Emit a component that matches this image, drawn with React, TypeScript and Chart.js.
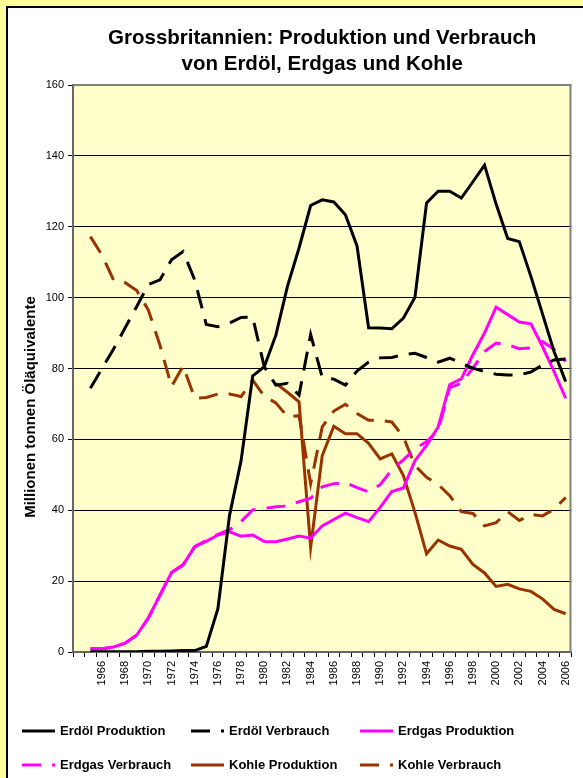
import React, { useEffect, useRef } from "react";
import { Chart, registerables } from "chart.js";

Chart.register(...registerables);

const FONT = "'Liberation Sans', Arial, Helvetica, sans-serif";

const titleLines = ["Grossbritannien: Produktion und Verbrauch", "von Erdöl, Erdgas und Kohle"];
const yAxisTitle = "Millionen tonnen Öläquivalente";

// years with data (the first category slot is an empty one, as in the original)
const years = [
  "1965", "1966", "1967", "1968", "1969", "1970", "1971", "1972", "1973", "1974",
  "1975", "1976", "1977", "1978", "1979", "1980", "1981", "1982", "1983", "1984",
  "1985", "1986", "1987", "1988", "1989", "1990", "1991", "1992", "1993", "1994",
  "1995", "1996", "1997", "1998", "1999", "2000", "2001", "2002", "2003", "2004",
  "2005", "2006",
];

const yTicks = [0, 20, 40, 60, 80, 100, 120, 140, 160];

const erdoelProduktion = [
  0.1, 0.1, 0.1, 0.1, 0.1, 0.2, 0.2, 0.3, 0.4, 0.4,
  1.6, 12.2, 38.5, 54.0, 77.9, 80.5, 89.4, 103.2, 114.0, 126.0,
  127.6, 127.0, 123.4, 114.6, 91.5, 91.4, 91.2, 94.2, 100.1, 126.7,
  130.0, 130.0, 128.1, 132.7, 137.4, 126.4, 116.7, 115.8, 106.0, 95.4,
  84.8, 76.3,
];

const erdoelVerbrauch = [
  74.4, 80.0, 85.5, 91.5, 97.5, 103.7, 105.0, 110.7, 113.0, 105.0,
  92.4, 91.8, 92.8, 94.4, 94.5, 80.5, 75.3, 75.8, 72.5, 89.6,
  77.5, 77.0, 75.3, 79.3, 81.8, 83.0, 83.1, 83.9, 84.3, 83.1,
  81.8, 82.9, 81.5, 80.1, 79.1, 78.4, 78.2, 78.2, 79.0, 81.0,
  82.4, 82.7,
];

const erdgasProduktion = [
  0.9, 0.9, 1.4, 2.5, 4.8, 9.6, 16.0, 22.4, 24.6, 29.7,
  31.2, 33.0, 33.9, 32.7, 33.0, 31.2, 31.1, 31.9, 32.7, 32.1,
  35.6, 37.4, 39.2, 37.9, 36.8, 40.8, 45.3, 46.3, 54.0, 58.3,
  63.5, 75.5, 77.1, 83.9, 90.0, 97.3, 95.2, 93.1, 92.6, 86.2,
  79.1, 71.6,
];

const erdgasVerbrauch = [
  0.9, 0.9, 1.4, 2.5, 4.8, 9.6, 16.0, 22.4, 24.6, 29.7,
  31.5, 33.2, 34.5, 36.8, 40.1, 40.5, 41.0, 41.2, 42.4, 43.4,
  46.6, 47.5, 47.8, 46.4, 45.2, 47.2, 51.4, 54.2, 57.3, 59.4,
  62.5, 74.6, 75.8, 80.1, 84.8, 87.2, 86.7, 85.6, 85.8, 87.6,
  85.4, 82.0,
];

const kohleProduktion = [
  null, null, null, null, null, null, null, null, null, null,
  null, null, null, null, null, null, 75.8, 73.3, 70.6, 29.5,
  55.4, 63.7, 61.6, 61.6, 58.9, 54.5, 55.9, 49.8, 39.4, 27.7,
  31.6, 29.9, 29.0, 24.7, 22.3, 18.5, 19.1, 17.8, 17.1, 15.0,
  12.0, 10.8,
];

const kohleVerbrauch = [
  117.2, 112.0, 105.0, 104.2, 102.0, 96.5, 86.6, 74.9, 80.7, 71.6,
  71.8, 72.8, 72.8, 72.1, 76.7, 72.2, 70.3, 66.4, 66.7, 47.5,
  63.5, 68.0, 69.9, 67.3, 65.4, 65.4, 64.9, 60.7, 52.6, 49.3,
  47.3, 44.1, 39.6, 39.1, 35.6, 36.5, 39.6, 37.1, 38.8, 38.4,
  40.3, 43.6,
];

const seriesNames = [
  "Erdöl Produktion",
  "Erdöl Verbrauch",
  "Erdgas Produktion",
  "Erdgas Verbrauch",
  "Kohle Produktion",
  "Kohle Verbrauch",
];

const BLACK = "#000000";
const MAGENTA = "#FF00FF";
const BROWN = "#993300";
const DASH = [19, 11];

const seriesStyles = [
  { color: BLACK, dash: [] as number[] },
  { color: BLACK, dash: DASH },
  { color: MAGENTA, dash: [] as number[] },
  { color: MAGENTA, dash: DASH },
  { color: BROWN, dash: [] as number[] },
  { color: BROWN, dash: DASH },
];

const seriesData = [
  erdoelProduktion,
  erdoelVerbrauch,
  erdgasProduktion,
  erdgasVerbrauch,
  kohleProduktion,
  kohleVerbrauch,
];

const categories = ["", ...years];

const plotBgPlugin = {
  id: "plotBg",
  beforeDraw(chart: any) {
    const { ctx, chartArea } = chart;
    ctx.save();
    ctx.fillStyle = "#FFFFCC";
    ctx.fillRect(chartArea.left, chartArea.top, chartArea.right - chartArea.left, chartArea.bottom - chartArea.top);
    ctx.restore();
  },
  beforeDatasetsDraw(chart: any) {
    const { ctx, chartArea } = chart;
    ctx.save();
    ctx.strokeStyle = "#808080";
    ctx.lineWidth = 2;
    ctx.beginPath();
    ctx.moveTo(chartArea.left, chartArea.top);
    ctx.lineTo(chartArea.right - 1, chartArea.top);
    ctx.lineTo(chartArea.right - 1, chartArea.bottom);
    ctx.stroke();
    ctx.restore();
  },
};

const yTitlePlugin = {
  id: "yTitleCustom",
  afterDraw(chart: any) {
    const { ctx } = chart;
    ctx.save();
    ctx.translate(23, 399);
    ctx.rotate(-Math.PI / 2);
    ctx.font = `bold 15px ${FONT}`;
    ctx.fillStyle = "#000";
    ctx.textAlign = "center";
    ctx.textBaseline = "middle";
    ctx.fillText(yAxisTitle, 0, 0);
    ctx.restore();
  },
};

function LegendSample({ color, dash }: { color: string; dash: number[] }) {
  return (
    <svg width={33} height={16} style={{ display: "block", flex: "none" }}>
      <line
        x1={0}
        y1={8}
        x2={33}
        y2={8}
        stroke={color}
        strokeWidth={3}
        strokeDasharray={dash.length ? dash.join(" ") : undefined}
      />
    </svg>
  );
}

export default function App() {
  const canvasRef = useRef<HTMLCanvasElement | null>(null);

  useEffect(() => {
    const prevMargin = document.body.style.margin;
    document.body.style.margin = "0";
    document.body.style.background = "#FFFF99";
    document.body.style.overflow = "hidden";
    document.documentElement.style.overflow = "hidden";

    const canvas = canvasRef.current;
    if (!canvas) return;
    const chart = new Chart(canvas, {
      type: "line",
      data: {
        labels: categories,
        datasets: seriesNames.map((name, i) => ({
          label: name,
          data: [null, ...seriesData[i]],
          borderColor: seriesStyles[i].color,
          backgroundColor: seriesStyles[i].color,
          borderDash: seriesStyles[i].dash,
          borderWidth: 3,
          borderCapStyle: "butt" as const,
          pointRadius: 0,
          pointHoverRadius: 0,
          tension: 0,
          fill: false,
          spanGaps: false,
        })),
      },
      options: {
        responsive: false,
        animation: false,
        events: [],
        layout: { padding: { left: 0, right: 3, top: 0, bottom: 0 } },
        plugins: {
          legend: { display: false },
          tooltip: { enabled: false },
          title: {
            display: true,
            text: titleLines,
            color: "#000",
            fullSize: false,
            font: { family: FONT, size: 20.5, weight: "bold", lineHeight: 26 / 20.5 },
            padding: { top: 17.5, bottom: 7.5 },
          },
        },
        scales: {
          x: {
            type: "category",
            offset: true,
            afterFit(scale: any) {
              scale.height = 126;
            },
            grid: {
              offset: true,
              drawOnChartArea: false,
              drawTicks: true,
              tickLength: 5,
              color: "#000",
              lineWidth: 1,
            },
            border: { display: true, color: "#666", width: 2 },
            ticks: {
              autoSkip: false,
              maxRotation: 90,
              minRotation: 90,
              padding: 4,
              color: "#000",
              font: { family: FONT, size: 11 },
              callback: (_v: any, index: number) => (index % 2 === 0 ? categories[index] : ""),
            },
          },
          y: {
            min: yTicks[0],
            max: yTicks[yTicks.length - 1],
            afterFit(scale: any) {
              scale.width = 65;
            },
            afterBuildTicks(scale: any) {
              scale.ticks = yTicks.map((v) => ({ value: v }));
            },
            grid: {
              color: "#000",
              lineWidth: 1,
              drawTicks: true,
              tickLength: 5,
            },
            border: { display: true, color: "#666", width: 2 },
            ticks: {
              padding: 4,
              color: "#000",
              font: { family: FONT, size: 11 },
            },
          },
        },
      },
      plugins: [plotBgPlugin, yTitlePlugin],
    });
    return () => {
      chart.destroy();
      document.body.style.margin = prevMargin;
    };
  }, []);

  const colX = [22, 191, 360];
  const rowY = [731, 765];

  return (
    <div
      style={{
        position: "fixed",
        left: 6,
        top: 6,
        width: 600,
        height: 800,
        borderLeft: "2px solid #000",
        borderTop: "2px solid #000",
        background: "#FFFFFF",
        overflow: "hidden",
      }}
    >
      <canvas ref={canvasRef} width={575} height={770} style={{ position: "absolute", left: 0, top: 0, width: 575, height: 770 }} />
      {seriesNames.map((name, i) => {
        const col = i % 3;
        const row = Math.floor(i / 3);
        return (
          <div
            key={name}
            style={{
              position: "absolute",
              left: colX[col] - 8,
              top: rowY[row] - 8 - 8,
              height: 16,
              display: "flex",
              alignItems: "center",
              whiteSpace: "nowrap",
              fontFamily: FONT,
              fontWeight: "bold",
              fontSize: 13,
              color: "#000",
            }}
          >
            <LegendSample color={seriesStyles[i].color} dash={seriesStyles[i].dash} />
            <span style={{ marginLeft: 5, lineHeight: "16px" }}>{name}</span>
          </div>
        );
      })}
    </div>
  );
}
